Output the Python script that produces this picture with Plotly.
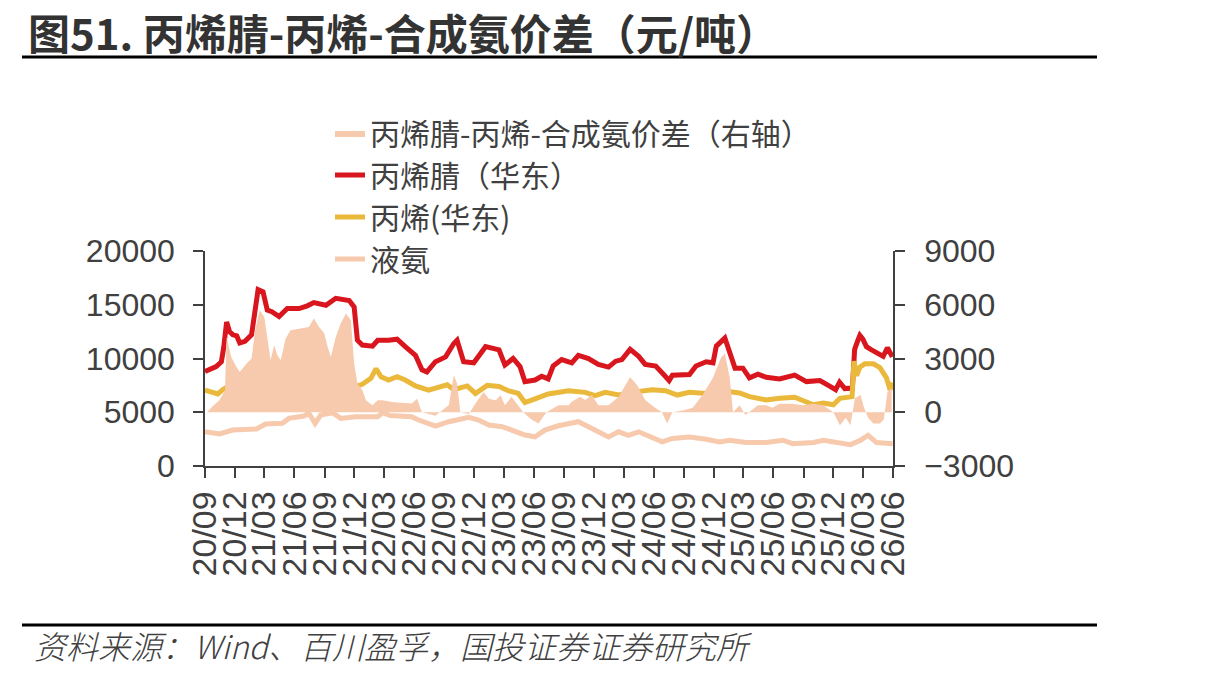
import plotly.graph_objects as go

# ---------------- data ----------------
acn_dates = ["2020-09-01","2020-09-20","2020-10-05","2020-10-21","2020-10-28","2020-11-06","2020-11-15","2020-11-25",
             "2020-12-07","2020-12-16","2021-01-01","2021-01-21","2021-02-01","2021-02-10","2021-02-25","2021-03-10",
             "2021-03-24","2021-04-15","2021-05-10","2021-06-15","2021-07-10","2021-07-30","2021-09-05","2021-10-05",
             "2021-11-15","2021-11-30","2021-12-10","2021-12-25","2022-01-25","2022-02-10","2022-03-15","2022-04-10",
             "2022-05-05","2022-06-05","2022-06-25","2022-07-10","2022-08-05","2022-09-05","2022-09-30","2022-10-10",
             "2022-10-30","2022-11-30","2023-01-05","2023-02-15","2023-03-05","2023-03-30","2023-04-20","2023-05-05",
             "2023-06-05","2023-06-25","2023-07-15","2023-07-30","2023-08-25","2023-09-25","2023-10-15","2023-11-15",
             "2023-12-15","2024-01-15","2024-02-06","2024-02-25","2024-03-21","2024-04-16","2024-05-06","2024-06-07",
             "2024-06-27","2024-07-18","2024-07-28","2024-08-18","2024-09-18","2024-10-08","2024-11-08","2024-11-29",
             "2024-12-09","2025-01-04","2025-01-19","2025-02-04","2025-02-28","2025-03-20","2025-04-15","2025-05-10",
             "2025-06-20","2025-08-05","2025-09-10","2025-10-21","2025-11-21","2025-12-08","2025-12-20","2026-01-05",
             "2026-01-28","2026-02-04","2026-02-14","2026-02-20","2026-03-01","2026-03-12","2026-03-25","2026-04-12",
             "2026-05-02","2026-05-15","2026-05-30"]
acn_values = [8800,9100,9250,9700,11000,13400,12500,12200,
              12100,11450,11600,12200,14500,16400,16200,14500,
              14350,13900,14650,14650,14900,15200,14950,15600,
              15400,14800,11700,11250,11150,11700,11700,11800,
              11100,10300,8950,8750,9700,10150,11400,11700,
              9700,9600,11100,10800,9400,10000,9250,7850,
              8000,8350,8100,9300,9900,9600,10300,10000,
              9450,9200,9750,9900,10850,10200,9450,9300,
              8650,7950,8450,8450,8500,9300,9700,9600,
              11150,11900,10550,9100,9100,8200,8550,8250,
              8100,8450,7850,7950,7400,7100,7800,7200,
              7250,10850,11700,12150,11800,11100,10850,10500,
              10200,11000,10150]

pp_dates = ["2020-09-01","2020-09-25","2020-10-10","2020-10-25","2020-11-20","2020-12-16","2021-01-21","2021-02-01",
            "2021-02-15","2021-03-05","2021-04-05","2021-04-30","2021-05-20","2021-06-30","2021-08-25","2021-09-13",
            "2021-09-25","2021-10-25","2021-11-20","2021-12-25","2022-01-20","2022-02-05","2022-02-20","2022-03-15",
            "2022-04-10","2022-05-05","2022-06-05","2022-07-15","2022-09-10","2022-09-30","2022-11-10","2022-12-05",
            "2023-01-10","2023-02-15","2023-03-15","2023-04-15","2023-05-05","2023-06-05","2023-07-15","2023-09-15",
            "2023-11-05","2023-12-05","2024-01-05","2024-02-15","2024-03-26","2024-05-27","2024-07-07","2024-08-12",
            "2024-09-18","2024-11-08","2024-12-09","2025-01-09","2025-02-18","2025-03-20","2025-05-10","2025-06-20",
            "2025-08-05","2025-10-01","2025-11-01","2025-12-01","2025-12-21","2026-01-27","2026-02-02","2026-02-10",
            "2026-02-20","2026-03-07","2026-04-02","2026-04-22","2026-05-12","2026-05-23","2026-05-31"]
pp_values = [7050,6850,6700,7100,7600,7250,7070,8300,
             8600,7950,8250,8000,7450,7400,7750,8900,
             8150,7700,7250,7600,8150,9050,8300,8000,
             8300,8000,7450,7050,7550,7100,7450,6750,
             7500,7400,7000,6750,5900,6250,6700,7000,
             6850,6550,6850,6600,6850,7100,7000,6600,
             6850,6750,6950,6950,6800,6450,6150,6300,
             6400,5700,5850,5700,6300,6450,9750,8400,
             9200,9500,9500,9150,8200,7100,7750]

nh3_dates = ["2020-09-01","2020-10-15","2020-11-25","2021-02-05","2021-03-05","2021-04-25","2021-05-15","2021-06-30",
             "2021-07-15","2021-08-03","2021-08-20","2021-09-25","2021-10-20","2021-12-05","2022-02-10","2022-02-25",
             "2022-03-20","2022-05-24","2022-06-15","2022-08-05","2022-09-15","2022-11-15","2022-12-15","2023-01-15",
             "2023-02-25","2023-03-25","2023-05-05","2023-06-05","2023-07-05","2023-08-15","2023-09-05","2023-10-15",
             "2023-11-15","2023-12-15","2024-01-15","2024-02-15","2024-03-16","2024-04-16","2024-05-17","2024-06-27",
             "2024-07-28","2024-09-18","2024-11-08","2024-12-19","2025-01-19","2025-03-09","2025-05-10","2025-06-30",
             "2025-07-30","2025-10-01","2025-11-01","2025-12-21","2026-01-22","2026-02-22","2026-03-17","2026-04-12",
             "2026-05-31"]
nh3_values = [3200,2980,3350,3450,3900,3970,4430,4650,
              4900,3970,4740,4960,4430,4590,4590,4960,
              4700,4590,4280,3720,4120,4530,4280,3810,
              3660,3350,2880,2720,3340,3740,3870,4120,
              3650,3180,2700,3180,2860,3180,2800,2240,
              2560,2700,2490,2240,2400,2180,2180,2400,
              2080,2180,2400,2180,1990,2400,2860,2180,
              2080]

spread_dates = ["2020-09-07","2020-09-22","2020-10-15","2020-11-01","2020-11-06","2020-11-20","2020-12-06","2020-12-16",
                "2021-01-06","2021-01-21","2021-02-01","2021-02-15","2021-03-01","2021-03-10","2021-03-20","2021-03-31",
                "2021-04-10","2021-04-20","2021-05-05","2021-05-20","2021-06-15","2021-07-15","2021-07-30","2021-08-15",
                "2021-08-31","2021-09-10","2021-09-20","2021-10-05","2021-10-20","2021-11-05","2021-11-20","2021-11-30",
                "2021-12-10","2021-12-25","2022-01-05","2022-01-25","2022-02-10","2022-02-25","2022-03-31","2022-05-25",
                "2022-06-10","2022-06-25","2022-08-05","2022-09-15","2022-09-30","2022-10-10","2022-10-20","2022-11-15",
                "2022-12-05","2022-12-30","2023-01-15","2023-02-05","2023-02-20","2023-03-05","2023-03-25","2023-04-15",
                "2023-04-30","2023-05-25","2023-06-15","2023-07-10","2023-08-15","2023-09-15","2023-09-25","2023-10-20",
                "2023-11-05","2023-11-25","2023-12-15","2024-01-15","2024-02-15","2024-03-07","2024-03-21","2024-04-11",
                "2024-05-06","2024-06-02","2024-06-26","2024-07-12","2024-07-28","2024-08-29","2024-09-28","2024-10-28",
                "2024-11-28","2024-12-23","2025-01-04","2025-01-19","2025-01-29","2025-02-18","2025-03-08","2025-04-15",
                "2025-05-10","2025-05-29","2025-06-20","2025-07-29","2025-08-29","2025-10-01","2025-10-31","2025-12-01",
                "2025-12-21","2026-01-08","2026-01-22","2026-02-05","2026-02-22","2026-03-04","2026-03-17","2026-04-02",
                "2026-04-22","2026-05-04","2026-05-15","2026-05-28"]
spread_values = [0,300,670,1230,4200,3090,2530,2250,
                 2720,3000,4580,5700,5320,4020,2900,3740,
                 3180,2900,4120,4580,4670,4760,5230,4760,
                 4400,3650,3090,4200,4950,5510,5140,2720,
                 1600,1230,670,390,670,670,560,490,
                 760,0,-200,400,2060,1600,0,-100,
                 490,1130,760,670,950,390,860,390,
                 0,-400,-630,0,390,390,590,870,
                 680,960,390,390,870,1520,1950,1520,
                 680,300,0,-630,0,100,250,960,
                 1900,3030,3300,1900,0,390,-150,390,
                 390,250,480,480,390,480,390,0,
                 -730,-300,-730,780,960,300,-300,-630,
                 -630,-400,1150,1340]

tick_dates = ["2020-09-01","2020-12-01","2021-03-01","2021-06-01","2021-09-01","2021-12-01","2022-03-01","2022-06-01",
              "2022-09-01","2022-12-01","2023-03-01","2023-06-01","2023-09-01","2023-12-01","2024-03-01","2024-06-01",
              "2024-09-01","2024-12-01","2025-03-01","2025-06-01","2025-09-01","2025-12-01","2026-03-01","2026-06-01"]
tick_labels = ["20/09","20/12","21/03","21/06","21/09","21/12","22/03","22/06",
               "22/09","22/12","23/03","23/06","23/09","23/12","24/03","24/06",
               "24/09","24/12","25/03","25/06","25/09","25/12","26/03","26/06"]
left_ticks = [0, 5000, 10000, 15000, 20000]
left_labels = ["0", "5000", "10000", "15000", "20000"]
right_ticks = [-3000, 0, 3000, 6000, 9000]
right_labels = ["\u22123000", "0", "3000", "6000", "9000"]

names = ["丙烯腈-丙烯-合成氨价差（右轴）", "丙烯腈（华东）", "丙烯(华东)", "液氨"]
title_text = "图51. 丙烯腈-丙烯-合成氨价差（元/吨）"
source_text = "资料来源：Wind、百川盈孚，国投证券证券研究所"

# ---------------- style ----------------
RED = "#D9161E"
YEL = "#EAB83A"
PEACH = "#F7C9AD"
TXT = "#404040"
AX = "#404040"
CJK = "Noto Sans CJK SC"
NUM = "Liberation Sans, Arial"

W, H = 1213, 678
L, R, T, B = 205, 1213 - 893, 251, 678 - 466
PW, PH = W - L - R, H - T - B

def px(x):
    return (x - L) / PW

def py(y):
    return (H - B - y) / PH

fig = go.Figure()
fig.add_trace(go.Scatter(x=spread_dates, y=spread_values, name=names[0], yaxis="y2",
                         mode="lines", line=dict(width=0, color=PEACH), fill="tozeroy",
                         fillcolor=PEACH))
fig.add_trace(go.Scatter(x=acn_dates, y=acn_values, name=names[1], mode="lines",
                         line=dict(color=RED, width=5)))
fig.add_trace(go.Scatter(x=pp_dates, y=pp_values, name=names[2], mode="lines",
                         line=dict(color=YEL, width=5)))
fig.add_trace(go.Scatter(x=nh3_dates, y=nh3_values, name=names[3], mode="lines",
                         line=dict(color=PEACH, width=5)))

def axis_common(size=32):
    return dict(showline=True, linecolor=AX, linewidth=1.5, ticks="outside", ticklen=10,
                tickcolor=AX, tickwidth=1.5, showgrid=False, zeroline=False,
                tickfont=dict(family=NUM, size=size, color=TXT))

fig.update_layout(
    width=W, height=H,
    margin=dict(l=L, r=R, t=T, b=B, autoexpand=False),
    paper_bgcolor="white", plot_bgcolor="white",
    showlegend=True,
    legend=dict(x=px(330), y=py(107), xanchor="left", yanchor="top",
                bgcolor="rgba(0,0,0,0)", font=dict(family=CJK, size=30, color=TXT),
                traceorder="normal", tracegroupgap=0),
    xaxis=dict(type="date", range=["2020-09-01", "2026-06-01"], tickvals=tick_dates,
               ticktext=tick_labels, tickangle=-90, **axis_common(34)),
    yaxis=dict(range=[0, 20000], tickvals=left_ticks, ticktext=left_labels,
               ticklabelstandoff=12, **axis_common()),
    yaxis2=dict(range=[-3000, 9000], tickvals=right_ticks, ticktext=right_labels, overlaying="y",
                side="right", ticklabelstandoff=13, **axis_common()),
)

fig.add_annotation(x=px(26), y=py(31), xref="paper", yref="paper", xanchor="left", yanchor="middle",
                   text=title_text, showarrow=False,
                   font=dict(family=CJK, size=42, color="#333333", weight="bold"))
fig.add_annotation(x=px(32), y=py(645), xref="paper", yref="paper", xanchor="left", yanchor="middle",
                   text=source_text, showarrow=False,
                   font=dict(family=CJK, size=32, color=TXT, style="italic", weight=300))
for yy in (57, 625):
    fig.add_shape(type="line", xref="paper", yref="paper", x0=px(22), x1=px(1097), y0=py(yy), y1=py(yy),
                  line=dict(color="black", width=3))

fig.write_html("out.html")
